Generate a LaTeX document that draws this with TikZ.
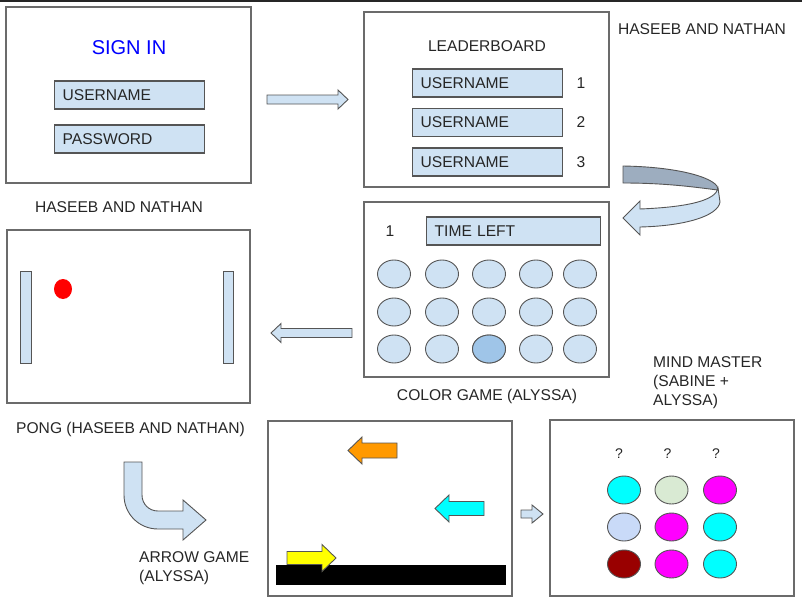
\documentclass[tikz,border=0pt]{standalone}
\usepackage{fontspec}
\setmainfont{Liberation Sans}
\usetikzlibrary{positioning,calc}

\definecolor{fieldblue}{HTML}{CFE2F3}
\definecolor{pickblue}{HTML}{9FC5E8}
\definecolor{bandgray}{HTML}{9DADBF}
\definecolor{framegray}{HTML}{6B6B6B}
\definecolor{edgegray}{HTML}{555555}
\definecolor{paleblue}{HTML}{C9DAF8}
\definecolor{palegreen}{HTML}{D9EAD3}
\definecolor{darkred}{HTML}{990000}
\definecolor{arroworange}{HTML}{FF9900}
\definecolor{pegcyan}{HTML}{00FFFF}
\definecolor{pegmagenta}{HTML}{FF00FF}
\definecolor{pegyellow}{HTML}{FFFF00}

% tail x, tip x, y, shaft half, head half, head length (signed), fill
\newcommand{\blockarrow}[7]{%
  \draw[draw=edgegray, line width=0.9pt, fill=#7]
    (#1,{#3-#4}) -- ({#2-(#6)},{#3-#4}) -- ({#2-(#6)},{#3-#5}) -- (#2,#3)
    -- ({#2-(#6)},{#3+#5}) -- ({#2-(#6)},{#3+#4}) -- (#1,{#3+#4}) -- cycle;}

\begin{document}
\begin{tikzpicture}[x=1pt, y=-1pt, font=\fontsize{15.6}{19}\selectfont, text=black!85,
    screen/.style={draw=framegray, line width=1.2pt, minimum width=245, minimum height=175, inner sep=0pt},
    field/.style={draw=edgegray, fill=fieldblue, line width=1.3pt, minimum height=28, text width=134,
      inner xsep=8pt, inner ysep=0pt, anchor=west, align=left},
    caption/.style={anchor=west, align=left, inner sep=0pt},
    dot/.style={draw=edgegray, line width=0.9pt}]

    \useasboundingbox (0,0) rectangle (802,602);
    \draw[line width=2.4pt, black!85] (0,1.2) -- (802,1.2);

    % sign in screen
    \node[screen, minimum height=176] (signin) at (128.5,95) {};
    \node[text=blue, font=\fontsize{20}{24}\selectfont] (title) at (129,48) {SIGN IN};
    \node[field] (user) at (54,95) {USERNAME};
    \node[field] (pass) at (54,139) {PASSWORD};
    \node (cap1) at (119,207) {HASEEB AND NATHAN};

    % leaderboard screen
    \node[screen] (leader) at (486.5,99.5) {};
    \node (board) at (487,46.5) {LEADERBOARD};
    \foreach \i/\y in {1/83, 2/122.5, 3/162} {
      \node[field] (name\i) at (412,\y) {USERNAME};
      \node (rank\i) at (581,\y) {\i};
    }
    \node (cap2) at (702,29) {HASEEB AND NATHAN};

    % color game screen
    \node[screen] (colorgame) at (486.5,289.5) {};
    \node (level) at (390,231.5) {1};
    \node[field, text width=158] (timer) at (426,231) {TIME LEFT};
    \foreach \x in {394,442,489,536,580}
      \foreach \y in {274,312,349}
        \draw[dot, fill=fieldblue] (\x,\y) ellipse (16.5 and 14);
    \draw[dot, fill=pickblue] (489,349) ellipse (16.5 and 14);
    \node (cap3) at (487,396) {COLOR GAME (ALYSSA)};

    % pong screen
    \node[screen, minimum width=243, minimum height=173] (pong) at (128.5,316.5) {};
    \draw[dot, fill=fieldblue] (20.5,271) rectangle (31,363);
    \draw[dot, fill=fieldblue] (223,271) rectangle (233,363);
    \fill[red] (63,289) ellipse (9 and 10);
    \node[caption] (cap4) at (16,429) {PONG (HASEEB AND NATHAN)};

    % arrow game screen
    \node[screen, minimum width=244] (arrowgame) at (390,508.5) {};
    \fill (276,565) rectangle (506,585);
    \blockarrow{397}{348}{450.5}{7.5}{13.5}{-14}{arroworange}
    \blockarrow{484}{435}{508.5}{7}{13.5}{-14}{pegcyan}
    \blockarrow{287}{336}{558}{6.5}{13.5}{14}{pegyellow}
    \node[caption] (cap5) at (139,568.5) {ARROW GAME\\(ALYSSA)};

    % mind master screen
    \node[screen, minimum width=244, minimum height=176] (mindmaster) at (672,508) {};
    \foreach \x in {619,667.5,716}
      \node[font=\fontsize{14}{17}\selectfont] at (\x,454) {?};
    \foreach \x/\y/\c in {624/490/pegcyan, 671.5/490/palegreen, 720/490/pegmagenta,
                          624/527/paleblue, 671.5/527/pegmagenta, 720/527/pegcyan,
                          624/564/darkred, 671.5/564/pegmagenta, 720/564/pegcyan}
      \draw[dot, fill=\c] (\x,\y) ellipse (16.5 and 14);
    \node[caption] (cap6) at (653,382.5) {MIND MASTER\\(SABINE +\\ALYSSA)};

    % flow arrows
    \blockarrow{267}{348}{99.5}{4.5}{9.5}{10}{fieldblue}
    \blockarrow{352}{271}{333}{4.5}{9.5}{-10}{fieldblue}
    \blockarrow{521}{543}{514}{4}{9}{11}{fieldblue}

    \draw[draw=edgegray, line width=0.9pt, fill=bandgray]
      (623,166) .. controls (685,167) and (720,180) .. (718,190)
      .. controls (700,188) and (670,183) .. (623,183) -- cycle;
    \draw[draw=edgegray, line width=0.9pt, fill=fieldblue]
      (640,209) .. controls (690,207) and (716,200) .. (718,188) -- (720,202)
      .. controls (718,216) and (685,226) .. (640,227) -- (640,235) -- (623,218)
      -- (640,201) -- cycle;

    \draw[draw=edgegray, line width=0.9pt, fill=fieldblue]
      (124,462) -- (124,495) .. controls (124,514) and (139,529) .. (158,529)
      -- (183,529) -- (183,540) -- (206,520) -- (183,500) -- (183,511) -- (158,511)
      .. controls (149,511) and (142,504) .. (142,495) -- (142,462) -- cycle;

\end{tikzpicture}
\end{document}
